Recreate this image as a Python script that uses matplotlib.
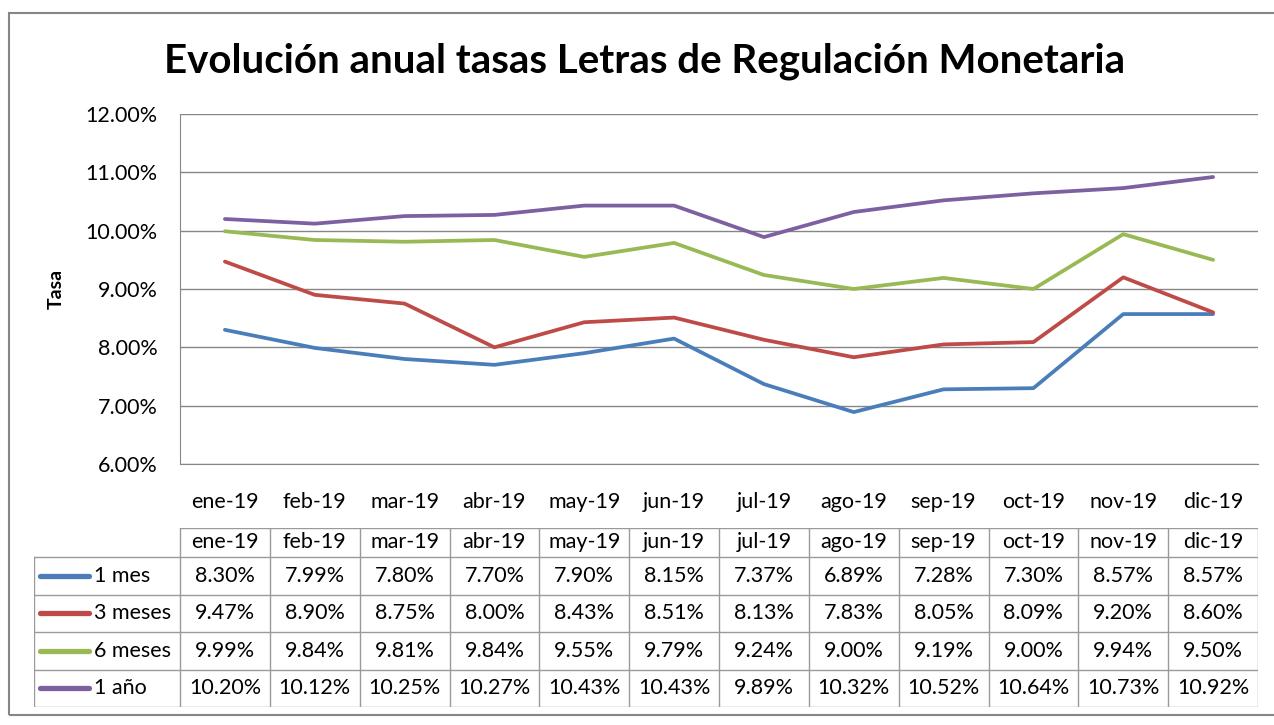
import matplotlib.pyplot as plt
from matplotlib.lines import Line2D
from matplotlib.patches import Rectangle

meses = ['ene-19', 'feb-19', 'mar-19', 'abr-19', 'may-19', 'jun-19',
         'jul-19', 'ago-19', 'sep-19', 'oct-19', 'nov-19', 'dic-19']
series = ['1 mes', '3 meses', '6 meses', '1 año']
tasa_1m = [8.30, 7.99, 7.80, 7.70, 7.90, 8.15, 7.37, 6.89, 7.28, 7.30, 8.57, 8.57]
tasa_3m = [9.47, 8.90, 8.75, 8.00, 8.43, 8.51, 8.13, 7.83, 8.05, 8.09, 9.20, 8.60]
tasa_6m = [9.99, 9.84, 9.81, 9.84, 9.55, 9.79, 9.24, 9.00, 9.19, 9.00, 9.94, 9.50]
tasa_1a = [10.20, 10.12, 10.25, 10.27, 10.43, 10.43, 9.89, 10.32, 10.52, 10.64, 10.73, 10.92]
colores = ['#4A7EBB', '#BE4B48', '#98B954', '#7D60A0']
yticks = [6, 7, 8, 9, 10, 11, 12]

W, H = 1274, 725
FONT = 'Lato'
FS = 15.5
plt.rcParams['font.family'] = [FONT, 'DejaVu Sans']

fig = plt.figure(figsize=(W / 100, H / 100), dpi=100)
fig.patches.append(Rectangle((9 / W, 1 - 715 / H), 1280 / W, 702 / H, transform=fig.transFigure,
                             fill=False, edgecolor='#868686', linewidth=1.5))

fig.text(645 / W, 1 - 61 / H, 'Evolución anual tasas Letras de Regulación Monetaria',
         ha='center', va='center', fontsize=29, fontweight='bold')

# grafico
ax = fig.add_axes([180 / W, 1 - 464 / H, (1258 - 180) / W, (464 - 114) / H])
datos = [tasa_1m, tasa_3m, tasa_6m, tasa_1a]
x = range(len(meses))
for vals, col in zip(datos, colores):
    ax.plot(x, vals, color=col, linewidth=2.7, solid_capstyle='round', zorder=3)
ax.set_xlim(-0.5, len(meses) - 0.5)
ax.set_ylim(6, 12)
ax.set_yticks(yticks)
ax.set_yticklabels(['%.2f%%' % v for v in yticks], fontsize=FS)
ax.set_xticks(list(x))
ax.set_xticklabels(meses, fontsize=FS)
ax.tick_params(axis='y', length=0, pad=16)
ax.tick_params(axis='x', length=0, pad=20)
ax.grid(axis='y', color='#868686', linewidth=1)
for s in ['top', 'right']:
    ax.spines[s].set_visible(False)
for s in ['left', 'bottom']:
    ax.spines[s].set_color('#868686')
ax.set_ylabel('Tasa', fontsize=14, fontweight='bold', labelpad=15)

# tabla de datos
tax = fig.add_axes([34 / W, 1 - 707 / H, (1258 - 34) / W, (707 - 528) / H])
cw = (1258 - 180) / 12
x0 = 34 - 180
tax.set_xlim(x0, 1258 - 180)
tax.set_ylim(707, 528)
tax.axis('off')
filas = [528, 557, 594.5, 632, 669.5, 707]
lc = '#9a9a9a'
# lineas horizontales
tax.plot([0, 12 * cw], [filas[0]] * 2, color=lc, lw=1)
for yy in filas[1:]:
    tax.plot([x0, 12 * cw], [yy] * 2, color=lc, lw=1)
# lineas verticales
tax.plot([x0, x0], [filas[1], filas[-1]], color=lc, lw=1)
for i in range(13):
    tax.plot([i * cw] * 2, [filas[0], filas[-1]], color=lc, lw=1)
for i, m in enumerate(meses):
    tax.text((i + 0.5) * cw, (filas[0] + filas[1]) / 2, m, ha='center', va='center', fontsize=FS)
for r, (nombre, vals, col) in enumerate(zip(series, datos, colores)):
    yc = (filas[r + 1] + filas[r + 2]) / 2
    tax.add_line(Line2D([x0 + 6, x0 + 55], [yc, yc], color=col, lw=3.8, solid_capstyle='round'))
    tax.text(x0 + 60, yc, nombre, ha='left', va='center', fontsize=FS)
    for i, v in enumerate(vals):
        tax.text((i + 0.5) * cw, yc, '%.2f%%' % v, ha='center', va='center', fontsize=FS)

fig.savefig('out.png', dpi=100)
